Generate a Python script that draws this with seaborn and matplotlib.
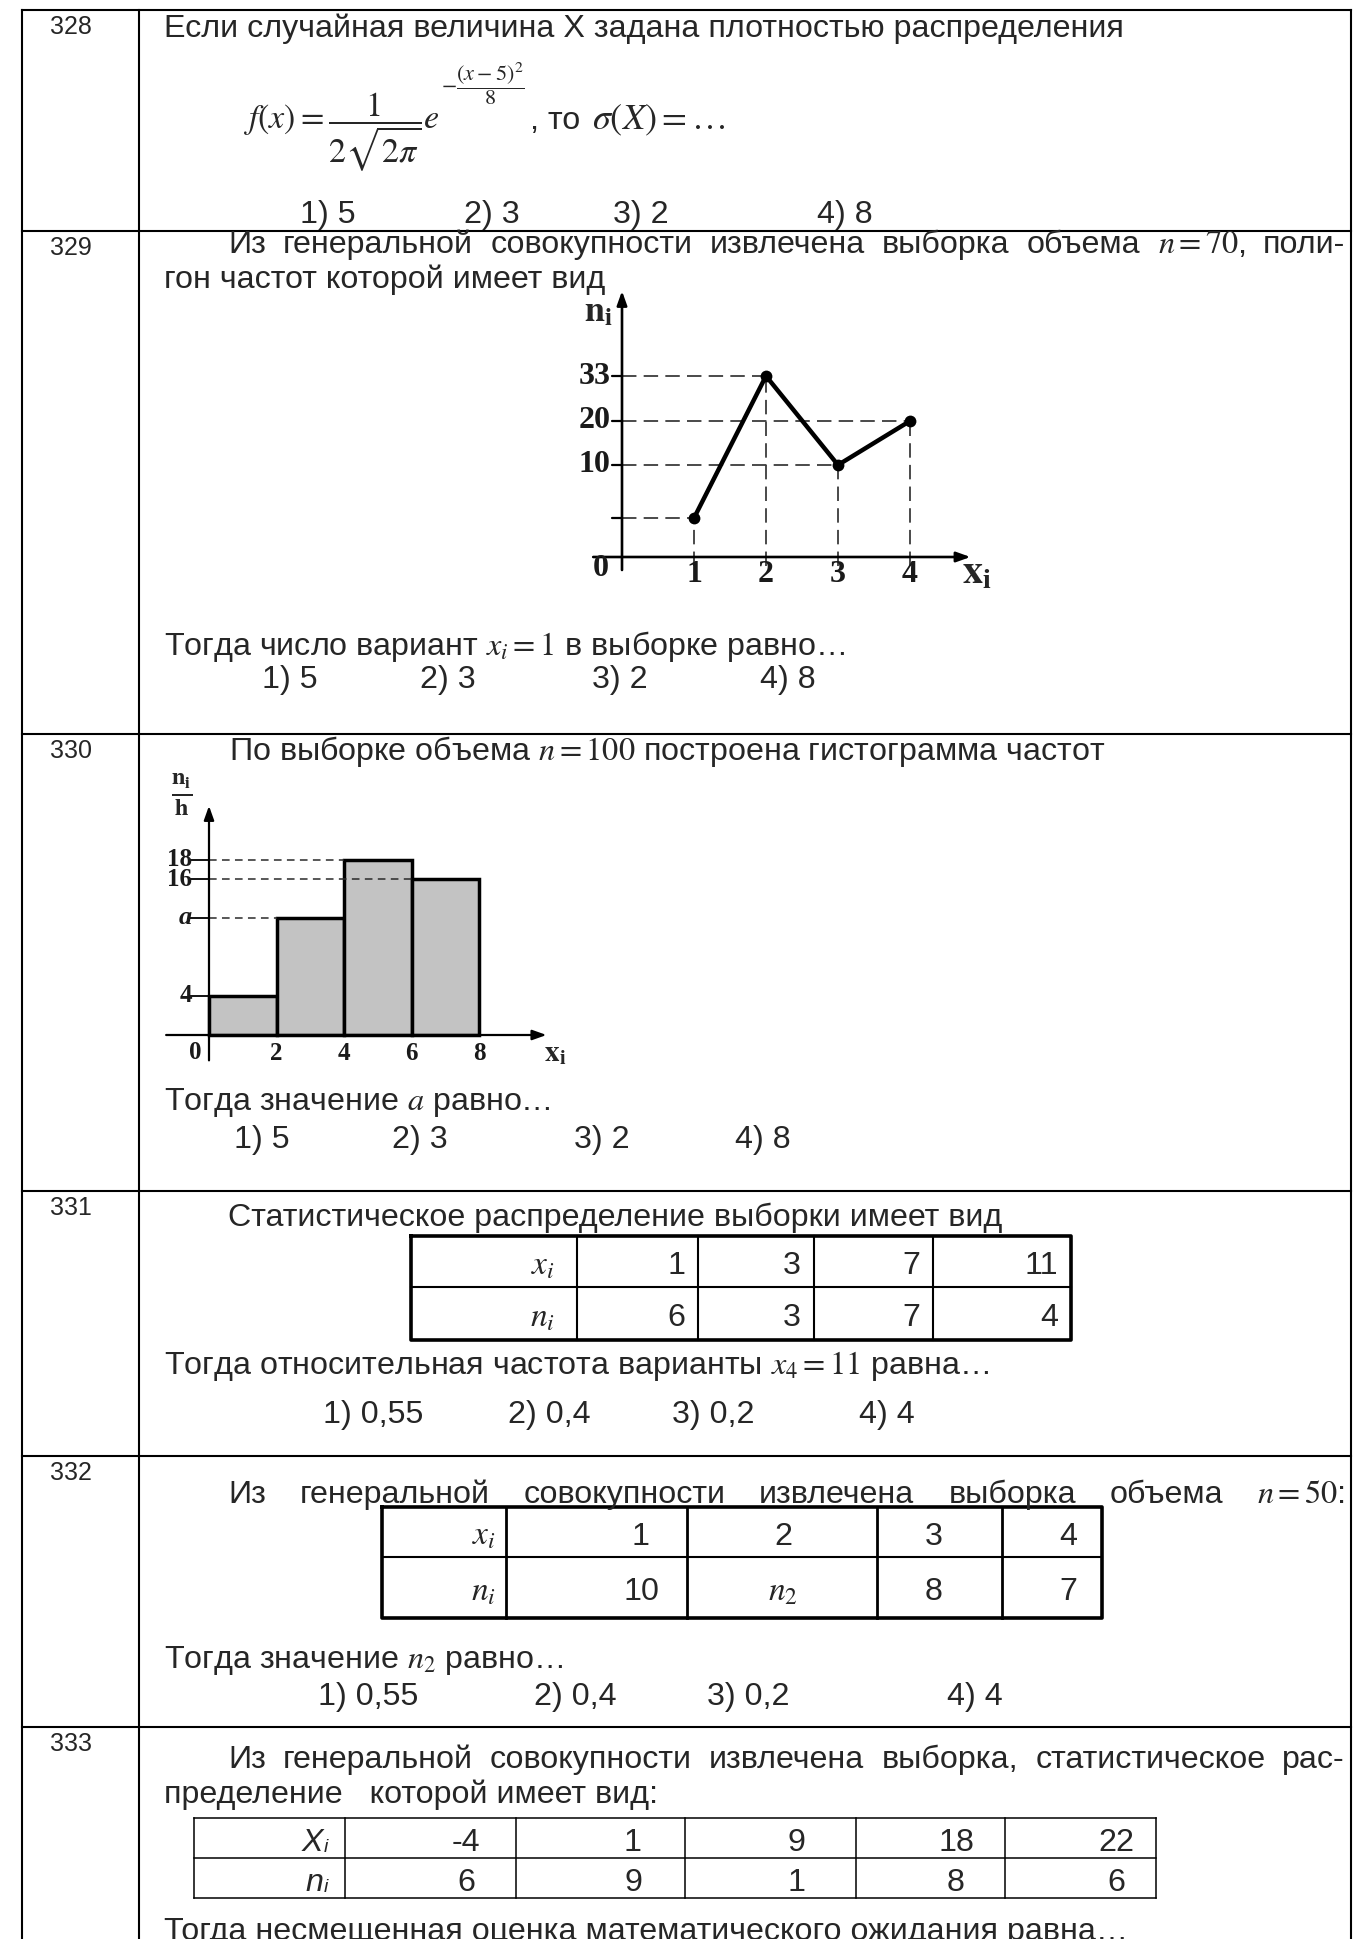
import numpy as np
import pandas as pd
import matplotlib
matplotlib.use("Agg")
import matplotlib.pyplot as plt
import seaborn as sns

# ---------------- data ----------------
task_ids = ["328", "329", "330", "331", "332", "333"]

# 329: frequency polygon
poly_x = [1, 2, 3, 4]
poly_n = [7, 33, 10, 20]
poly_ytick_labels = [33, 20, 10]

# 330: histogram of frequencies
hist_edges = [0, 2, 4, 6, 8]
hist_heights = [4, 12, 18, 16]
hist_ytick_vals = [4, 12, 16, 18]
hist_ytick_text = ["4", "a", "16", "18"]

# tables
t331_x = ["1", "3", "7", "11"]
t331_n = ["6", "3", "7", "4"]
t332_x = ["1", "2", "3", "4"]
t332_n = ["10", r"$n_2$", "8", "7"]
t333_x = ["-4", "1", "9", "18", "22"]
t333_n = ["6", "9", "1", "8", "6"]

# answer options
ans_int = ["1) 5", "2) 3", "3) 2", "4) 8"]
ans_frac = ["1) 0,55", "2) 0,4", "3) 0,2", "4) 4"]

# ---------------- style ----------------
sns.set_theme(style="white")
plt.rcParams["font.family"] = ["Liberation Sans", "DejaVu Sans"]
plt.rcParams["mathtext.fontset"] = "stix"

W, H = 1357, 1939
fig = plt.figure(figsize=(W / 100, H / 100), dpi=100)
page = fig.add_axes([0, 0, 1, 1])
page.set_xlim(0, W)
page.set_ylim(H, 0)
page.axis("off")
R = fig.canvas.get_renderer()

BODY = 23.2
LABEL = 18
MATH = 24
FORM = 24.5


def T(x, y, s, size=BODY, ha="left", **kw):
    return page.text(x, y, s, fontsize=size, ha=ha, va="baseline", **kw)


def L(xs, ys, lw=1.5, **kw):
    page.plot(xs, ys, color="black", lw=lw, solid_capstyle="projecting", **kw)


def justify(x0, x1, y, s, size=BODY):
    words = s.split(" ")
    objs = [T(0, y, w, size) for w in words]
    ws = [o.get_window_extent(R).width for o in objs]
    gap = (x1 - x0 - sum(ws)) / (len(words) - 1)
    x = x0
    for o, w in zip(objs, ws):
        o.set_x(x)
        x += w + gap


def cell(x, yc, s, size=BODY, ha="right", **kw):
    cap = 0.716 * size * 100 / 72
    return page.text(x, yc + cap / 2, s, fontsize=size, ha=ha, va="baseline", **kw)


def grid(xs, ys, lw_out, lw_in_v, lw_in_h):
    for y in ys[1:-1]:
        L([xs[0], xs[-1]], [y, y], lw=lw_in_h)
    for x in xs[1:-1]:
        L([x, x], [ys[0], ys[-1]], lw=lw_in_v)
    L([xs[0], xs[-1], xs[-1], xs[0], xs[0]], [ys[0], ys[0], ys[-1], ys[-1], ys[0]], lw=lw_out)


# ---------------- page grid ----------------
LEFT, RIGHT, TOP, DIV = 22, 1351, 10, 139
rows_top = [TOP, 231, 734, 1191, 1456, 1727]
L([LEFT, RIGHT], [TOP, TOP])
L([LEFT, LEFT], [TOP, H + 5])
L([RIGHT, RIGHT], [TOP, H + 5])
L([DIV, DIV], [TOP, H + 5])
for y in rows_top[1:]:
    L([LEFT, RIGHT], [y, y])
for tid, y in zip(task_ids, rows_top):
    T(71, y + 24, tid, size=LABEL, ha="center")

# ---------------- 328 ----------------
T(164, 37, "Если случайная величина X задана плотностью распределения")
f1 = T(243, 129, r"$f\left(x\right)=\dfrac{1}{2\sqrt{2\pi}}e$", size=FORM)
e_end = f1.get_window_extent(R).x1
page.text(e_end + 1, 84, r"$-\dfrac{\left(x-5\right)^{2}}{8}$", fontsize=16, ha="left", va="center")
T(530, 129, ", то")
T(592, 129, r"$\sigma\left(X\right)=\ldots$", size=FORM + 1.5)
for s, x in zip(ans_int, [300, 464, 613, 817]):
    T(x, 223, s)

# ---------------- 329 ----------------
justify(228, 1345, 253, r"Из генеральной совокупности извлечена выборка объема $n=70$, поли-")
T(164, 288, "гон частот которой имеет вид")
T(164, 655, r"Тогда число вариант $x_i=1$ в выборке равно…")
for s, x in zip(ans_int, [262, 420, 592, 760]):
    T(x, 688, s)

# polygon chart: x linear, y uses the picture's own (non-uniform) scale
PX0, PXS, AXY0 = 622, 72, 557
KV = np.array([-30.0, 0, 7, 10, 20, 33, 90])
KT = np.array([-120.0, 0, 39, 92, 136, 181, 392])
fwd = lambda v: np.interp(v, KV, KT)
inv = lambda t: np.interp(t, KT, KV)
x_lo, x_hi, t_lo, t_hi = -1.0, 5.4, -45, 280
ax1 = fig.add_axes([(PX0 + PXS * x_lo) / W, 1 - (AXY0 - t_lo) / H,
                    PXS * (x_hi - x_lo) / W, (t_hi - t_lo) / H])
ax1.set_yscale("function", functions=(fwd, inv))
sns.lineplot(x=poly_x, y=poly_n, ax=ax1, color="black", lw=3.2, marker="o",
             markersize=8.5, markeredgewidth=0, zorder=4, legend=False)
for xv, nv in zip(poly_x, poly_n):
    ax1.plot([0, xv], [nv, nv], color="#3c3c3c", lw=1.3, dashes=(8, 4), zorder=2)
    ax1.plot([xv, xv], [inv(-9), nv], color="#3c3c3c", lw=1.3, dashes=(8, 4), zorder=2)
for v in poly_ytick_labels + [poly_n[0]]:
    ax1.plot([-0.14, 0.0], [v, v], color="black", lw=1.6, zorder=3)
arrow = dict(arrowstyle="-|>,head_length=0.7,head_width=0.25", color="black", lw=1.9,
             shrinkA=0, shrinkB=0)
ax1.annotate("", xy=(4.84, 0), xytext=(-0.4, 0), arrowprops=arrow, annotation_clip=False)
ax1.annotate("", xy=(0, inv(266)), xytext=(0, inv(-13)), arrowprops=arrow, annotation_clip=False)
serif_b = dict(family="Liberation Serif", weight="bold", color="#1a1a1a")
for v in poly_ytick_labels:
    ax1.text(-0.16, v, str(v), ha="right", va="center", fontsize=23, **serif_b)
ax1.text(-0.3, inv(-12), "0", ha="center", va="center", fontsize=23, **serif_b)
for xv in poly_x:
    ax1.text(xv, inv(-18), str(xv), ha="center", va="center", fontsize=23, **serif_b)
ax1.text(-0.33, inv(245), r"$\mathbf{n}_{\mathbf{i}}$", ha="center", va="center", fontsize=26)
ax1.text(4.93, inv(-16), r"$\mathbf{x}_{\mathbf{i}}$", ha="center", va="center", fontsize=29)
ax1.set_xlim(x_lo, x_hi)
ax1.set_ylim(inv(t_lo), inv(t_hi))
ax1.axis("off")

# ---------------- 330 ----------------
T(229, 760, r"По выборке объема $n=100$ построена гистограмма частот")
T(164, 1110, r"Тогда значение $a$ равно…")
for s, x in zip(ans_int, [234, 392, 574, 735]):
    T(x, 1148, s)

HX0, HXS, HY0, HYS = 209, 33.75, 1035, 9.75
hx_lo, hx_hi, hy_lo, hy_hi = -1.7, 10.8, -3.6, 28
ax2 = fig.add_axes([(HX0 + HXS * hx_lo) / W, 1 - (HY0 - HYS * hy_lo) / H,
                    HXS * (hx_hi - hx_lo) / W, HYS * (hy_hi - hy_lo) / H])
mids = [(a + b) / 2 for a, b in zip(hist_edges[:-1], hist_edges[1:])]
sns.histplot(x=mids, weights=hist_heights, bins=hist_edges, ax=ax2, color="#c3c3c3",
             edgecolor="black", linewidth=2.5, alpha=1, zorder=2)
for left_edge, h in zip(hist_edges[:-1], hist_heights):
    if left_edge > 0:
        ax2.plot([0, left_edge], [h, h], color="#2a2a2a", lw=1.1, dashes=(5, 3.5), zorder=3)
for v in hist_ytick_vals:
    ax2.plot([-0.55, 0.0], [v, v], color="black", lw=1.3, zorder=3)
ax2.annotate("", xy=(10.0, 0), xytext=(-1.27, 0), arrowprops=dict(arrow, lw=1.6), annotation_clip=False)
ax2.annotate("", xy=(0, 23.5), xytext=(0, -2.6), arrowprops=dict(arrow, lw=1.6), annotation_clip=False)
for v, s in zip(hist_ytick_vals, hist_ytick_text):
    if s == "a":
        ax2.text(-0.5, v, s, ha="right", va="center", fontsize=19, style="italic", **serif_b)
    else:
        ax2.text(-0.5, v, s, ha="right", va="center", fontsize=18, **serif_b)
ax2.text(-0.4, -1.8, "0", ha="center", va="center", fontsize=18, **serif_b)
for e in hist_edges[1:]:
    ax2.text(e, -1.9, str(e), ha="center", va="center", fontsize=18, **serif_b)
ax2.text(10.25, -1.9, r"$\mathbf{x}_{\mathbf{i}}$", ha="center", va="center", fontsize=21)
ax2.text(-0.8, 24.7, r"$\frac{\mathbf{n}_{\mathbf{i}}}{\mathbf{h}}$", ha="center", va="center", fontsize=25)
ax2.set_xlim(hx_lo, hx_hi)
ax2.set_ylim(hy_lo, hy_hi)
ax2.axis("off")

# ---------------- 331 ----------------
T(228, 1226, "Статистическое распределение выборки имеет вид")
xs = [411, 577, 698, 814, 933, 1071]
ys = [1236, 1287, 1340]
grid(xs, ys, 2.6, 1.5, 1.5)
for r, (lab, vals) in enumerate([(r"$x_i$", t331_x), (r"$n_i$", t331_n)]):
    yc = (ys[r] + ys[r + 1]) / 2 + 1
    cell(xs[1] - 22, yc, lab, size=MATH)
    for j, v in enumerate(vals):
        cell(xs[j + 2] - 13, yc, v)
T(164, 1374, r"Тогда относительная частота варианты $x_4=11$ равна…")
for s, x in zip(ans_frac, [323, 508, 672, 859]):
    T(x, 1423, s)

# ---------------- 332 ----------------
justify(228, 1345, 1503, r"Из генеральной совокупности извлечена выборка объема $n=50$:")
xs = [382, 506, 687, 877, 1002, 1102]
ys = [1507, 1557, 1618]
grid(xs, ys, 2.6, 2.0, 1.5)
col332 = [641, 783, 934, 1068]
for r, (lab, vals) in enumerate([(r"$x_i$", t332_x), (r"$n_i$", t332_n)]):
    yc = (ys[r] + ys[r + 1]) / 2 + 1
    cell(xs[1] - 10, yc, lab, size=MATH)
    for xc, v in zip(col332, vals):
        cell(xc, yc, v, size=MATH if v.startswith("$") else BODY, ha="center")
T(164, 1668, r"Тогда значение $n_2$ равно…")
for s, x in zip(ans_frac, [318, 534, 707, 947]):
    T(x, 1705, s)

# ---------------- 333 ----------------
justify(228, 1345, 1768, "Из генеральной совокупности извлечена выборка, статистическое рас-")
T(164, 1803, "пределение   которой имеет вид:")
xs = [194, 345, 516, 685, 856, 1005, 1156]
ys = [1818, 1858, 1898]
for y in ys:
    L([xs[0], xs[-1]], [y, y], lw=1.1)
for x in xs:
    L([x, x], [ys[0], ys[-1]], lw=1.1)
col333 = [466, 633, 796, 956, 1116]
for r, (lab, vals) in enumerate([("X", t333_x), ("n", t333_n)]):
    yc = (ys[r] + ys[r + 1]) / 2 + 1
    cell(xs[1] - 22, yc, lab, style="italic")
    cell(xs[1] - 21, yc + 6, "i", size=14, ha="left", style="italic")
    for xc, v in zip(col333, vals):
        cell(xc, yc, v, ha="center")
T(164, 1940, "Тогда несмещенная оценка математического ожидания равна…")

fig.savefig("out.png", dpi=100)
